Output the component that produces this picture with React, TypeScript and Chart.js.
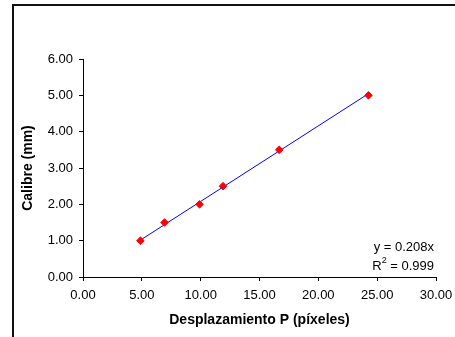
import React, { useEffect, useRef } from "react";
import { Chart, registerables } from "chart.js";

Chart.register(...registerables);

const pointsX = [4.88, 6.93, 9.91, 11.9, 16.68, 24.26];
const pointsY = [1.0, 1.5, 2.0, 2.5, 3.5, 5.0];
const trendX = [4.88, 24.26];
const trendY = [1.015, 5.046];
const trendLabels = ["y = 0.208x", "R", "2", " = 0.999"];
const xTitle = "Desplazamiento P (píxeles)";
const yTitle = "Calibre (mm)";

const FONT = "'Liberation Sans', Arial, sans-serif";

const framePlugin = {
  id: "frame",
  beforeDraw(chart: any) {
    const ctx = chart.ctx;
    ctx.save();
    ctx.strokeStyle = "#111";
    ctx.lineWidth = 2;
    ctx.beginPath();
    ctx.moveTo(13, 340);
    ctx.lineTo(13, 5);
    ctx.lineTo(460, 5);
    ctx.stroke();
    ctx.restore();
  },
  afterDraw(chart: any) {
    const ctx = chart.ctx;
    const right = chart.chartArea.right - 2;
    ctx.save();
    ctx.fillStyle = "#000";
    ctx.font = `13px ${FONT}`;
    ctx.textBaseline = "middle";
    ctx.textAlign = "right";
    ctx.fillText(trendLabels[0], right, 247);
    const rest = trendLabels[3];
    const restW = ctx.measureText(rest).width;
    ctx.fillText(rest, right, 266);
    ctx.font = `9px ${FONT}`;
    const supW = ctx.measureText(trendLabels[2]).width;
    ctx.fillText(trendLabels[2], right - restW, 261);
    ctx.font = `13px ${FONT}`;
    ctx.fillText(trendLabels[1], right - restW - supW, 266);
    ctx.restore();
  },
};

export default function App() {
  const ref = useRef<HTMLCanvasElement | null>(null);
  useEffect(() => {
    if (!ref.current) return;
    const chart = new Chart(ref.current, {
      type: "scatter",
      data: {
        datasets: [
          {
            data: pointsX.map((x, i) => ({ x, y: pointsY[i] })),
            backgroundColor: "#ff0000",
            borderColor: "#ff0000",
            pointStyle: "rectRot",
            pointRadius: 3.8,
            borderWidth: 1,
            order: 0,
          },
          {
            type: "line",
            data: trendX.map((x, i) => ({ x, y: trendY[i] })),
            borderColor: "#0000ff",
            borderWidth: 1,
            pointRadius: 0,
            showLine: true,
            fill: false,
            order: 1,
          } as any,
        ],
      },
      options: {
        animation: false,
        responsive: false,
        layout: { padding: { top: 59, right: 19, bottom: 0, left: 0 } },
        plugins: {
          legend: { display: false },
          tooltip: { enabled: false },
        },
        scales: {
          x: {
            type: "linear",
            min: 0,
            max: 30,
            afterFit: (s: any) => {
              s.height = 60;
              s.paddingRight = 0;
              s.paddingLeft = 0;
            },
            ticks: {
              stepSize: 5,
              padding: 7,
              color: "#000",
              font: { family: FONT, size: 13 },
              callback: (v: any) => Number(v).toFixed(2),
            },
            grid: {
              drawOnChartArea: false,
              drawTicks: true,
              tickLength: 4,
              color: "#000",
            },
            border: { display: true, color: "#000", width: 1 },
            title: {
              display: true,
              text: xTitle,
              color: "#000",
              font: { family: FONT, size: 14, weight: "bold" },
              padding: { top: 0, bottom: 8 },
            },
          },
          y: {
            type: "linear",
            min: 0,
            max: 6,
            afterFit: (s: any) => {
              s.width = 83;
              s.paddingTop = 0;
              s.paddingBottom = 0;
            },
            ticks: {
              stepSize: 1,
              padding: 6,
              color: "#000",
              font: { family: FONT, size: 13 },
              callback: (v: any) => Number(v).toFixed(2),
            },
            grid: {
              drawOnChartArea: false,
              drawTicks: true,
              tickLength: 4,
              color: "#000",
            },
            border: { display: true, color: "#000", width: 1 },
            title: {
              display: true,
              text: yTitle,
              color: "#000",
              font: { family: FONT, size: 14, weight: "bold" },
              padding: { top: 20, bottom: 0 },
            },
          },
        },
      },
      plugins: [framePlugin],
    });
    return () => chart.destroy();
  }, []);
  return (
    <div style={{ position: "fixed", left: 0, top: 0, width: 455, height: 337, background: "#fff" }}>
      <canvas ref={ref} width={455} height={337} style={{ display: "block", width: 455, height: 337 }} />
    </div>
  );
}
